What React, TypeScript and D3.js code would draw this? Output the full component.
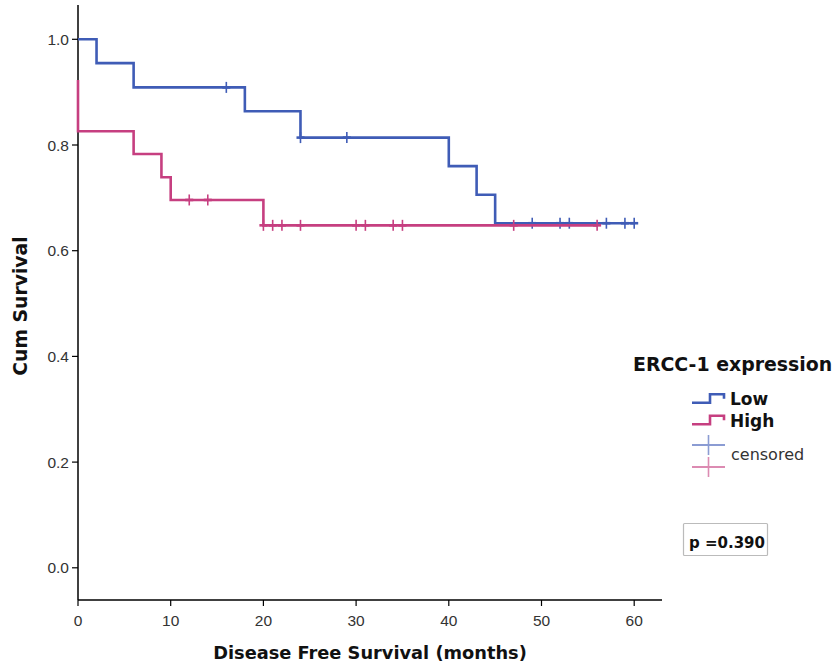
import React from "react";
import * as d3 from "d3";

// ---- data ----
const lowTimes = [0, 2, 6, 18, 24, 40, 43, 45];
const lowSurv = [1.0, 0.955, 0.909, 0.864, 0.814, 0.76, 0.706, 0.652];
const lowEnd = 60;
const lowCensored = [16, 24, 29, 49, 52, 53, 57, 59, 60];

const highTimes = [0, 0, 6, 9, 10, 20];
const highSurv = [0.923, 0.826, 0.783, 0.739, 0.696, 0.648];
const highEnd = 56;
const highCensored = [12, 14, 20, 21, 22, 24, 30, 31, 34, 35, 47, 56];

const xTicks = [0, 10, 20, 30, 40, 50, 60];
const yTicks = [0, 0.2, 0.4, 0.6, 0.8, 1.0];

const groupNames = ["Low", "High"];
const legendTitle = "ERCC-1 expression";
const pText = "p =0.390";

const BLUE = "#3f5cb6";
const PINK = "#c63f80";

const W = 834;
const H = 666;

const x = d3.scaleLinear().domain([0, 60]).range([78, 634.2]);
const y = d3.scaleLinear().domain([0, 1]).range([567.8, 39.3]);

const line = d3
  .line<[number, number]>()
  .x((d) => x(d[0]))
  .y((d) => y(d[1]))
  .curve(d3.curveStepAfter);

function pts(times: number[], surv: number[], end: number): [number, number][] {
  const p: [number, number][] = times.map((t, i) => [t, surv[i]]);
  p.push([end, surv[surv.length - 1]]);
  return p;
}

function survAt(times: number[], surv: number[], t: number) {
  let v = surv[0];
  for (let i = 0; i < times.length; i++) if (times[i] <= t) v = surv[i];
  return v;
}

const FONT_T = "'DejaVu Sans', sans-serif";
const FONT = "'Liberation Sans', Arial, sans-serif";

export default function App() {
  const groups = [
    { times: lowTimes, surv: lowSurv, end: lowEnd, cens: lowCensored, color: BLUE },
    { times: highTimes, surv: highSurv, end: highEnd, cens: highCensored, color: PINK },
  ];
  const x0 = 78;
  const xAxisY = 600;
  return (
    <svg
      width={W}
      height={H}
      style={{ position: "absolute", left: 0, top: 0, background: "#fff" }}
    >
      <rect x={0} y={0} width={W} height={H} fill="#fff" />
      {/* axes */}
      <line x1={x0} x2={x0} y1={5} y2={xAxisY} stroke="#000" strokeWidth={1.5} />
      <line x1={x0} x2={662} y1={xAxisY} y2={xAxisY} stroke="#000" strokeWidth={1.5} />
      {yTicks.map((t) => (
        <g key={"y" + t}>
          <line x1={x0 - 6} x2={x0} y1={y(t)} y2={y(t)} stroke="#000" strokeWidth={1.2} />
          <text
            x={x0 - 9}
            y={y(t) + 5.5}
            textAnchor="end"
            fontFamily={FONT}
            fontSize={15.5}
            fill="#333"
          >
            {t.toFixed(1)}
          </text>
        </g>
      ))}
      {xTicks.map((t) => (
        <g key={"x" + t}>
          <line x1={x(t)} x2={x(t)} y1={xAxisY} y2={xAxisY + 6} stroke="#000" strokeWidth={1.2} />
          <text
            x={x(t)}
            y={xAxisY + 26}
            textAnchor="middle"
            fontFamily={FONT}
            fontSize={15.5}
            fill="#333"
          >
            {t}
          </text>
        </g>
      ))}
      <text
        x={370}
        y={659}
        textAnchor="middle"
        fontFamily={FONT_T}
        fontWeight="bold"
        fontSize={17.8}
        fill="#111"
      >
        Disease Free Survival (months)
      </text>
      <text
        transform="translate(27,306) rotate(-90)"
        textAnchor="middle"
        fontFamily={FONT_T}
        fontWeight="bold"
        fontSize={18.8}
        fill="#111"
      >
        Cum Survival
      </text>

      {/* curves */}
      {groups.map((g, gi) => (
        <g key={"g" + gi}>
          <path
            d={line(pts(g.times, g.surv, g.end)) || ""}
            fill="none"
            stroke={g.color}
            strokeWidth={2.6}
          />
          {g.cens.map((c, ci) => {
            const cx = x(c);
            const cy = y(survAt(g.times, g.surv, c));
            return (
              <g key={ci}>
                <line x1={cx} x2={cx} y1={cy - 5.5} y2={cy + 5.5} stroke={g.color} strokeWidth={1.6} />
                <line x1={cx - 4} x2={cx + 4} y1={cy} y2={cy} stroke={g.color} strokeWidth={2.6} />
              </g>
            );
          })}
        </g>
      ))}

      {/* legend */}
      <text x={633} y={371} fontFamily={FONT_T} fontWeight="bold" fontSize={18.9} fill="#111">
        {legendTitle}
      </text>
      {groupNames.map((n, i) => {
        const yb = 402.7 + i * 21.5;
        const col = i === 0 ? BLUE : PINK;
        return (
          <g key={n}>
            <path
              d={`M692,${yb} H710 V${yb - 8.5} H724 V${yb - 4}`}
              fill="none"
              stroke={col}
              strokeWidth={2.6}
            />
            <text x={730} y={yb + 2.5} fontFamily={FONT_T} fontWeight="bold" fontSize={17} fill="#111">
              {n}
            </text>
          </g>
        );
      })}
      {[BLUE, PINK].map((c, i) => {
        const cy = 445 + i * 22;
        return (
          <g key={"lc" + i} opacity={0.6}>
            <line x1={692} x2={725} y1={cy} y2={cy} stroke={c} strokeWidth={2} />
            <line x1={708.5} x2={708.5} y1={cy - 10} y2={cy + 10} stroke={c} strokeWidth={1.6} />
          </g>
        );
      })}
      <text x={731} y={460} fontFamily={FONT_T} fontSize={16} fill="#333">
        censored
      </text>

      {/* p value box */}
      <rect x={683.5} y={523.5} width={84} height={32} fill="#fff" stroke="#bbb" strokeWidth={1.2} rx={1} />
      <text x={689} y={548} fontFamily={FONT_T} fontWeight="bold" fontSize={15} fill="#111">
        {pText}
      </text>
    </svg>
  );
}
